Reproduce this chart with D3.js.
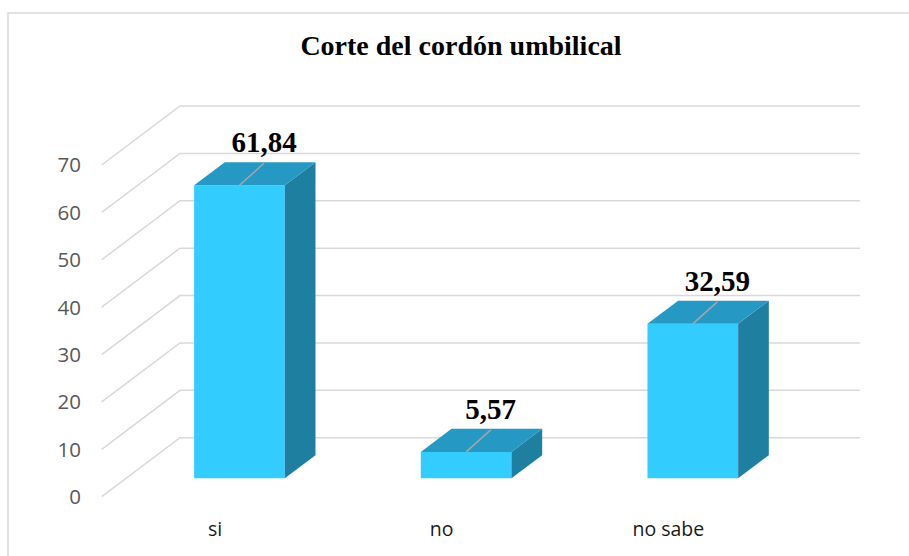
<!DOCTYPE html>
<html>
<head>
<meta charset="utf-8">
<script src="https://cdn.jsdelivr.net/npm/d3@7"></script>
<style>
  html, body { margin: 0; padding: 0; background: #fff; }
  svg { display: block; }
</style>
</head>
<body>
<svg id="chart" width="909" height="556"></svg>
<script>
const categories = ["si", "no", "no sabe"];
const values = [61.84, 5.57, 32.59];
const valueLabels = ["61,84", "5,57", "32,59"];
const yTicks = [0, 10, 20, 30, 40, 50, 60, 70];
const title = "Corte del cordón umbilical";

const svg = d3.select("#chart");

// 3D projection parameters
const DX = 78.3, DY = -59;     // full depth offset of the plot box
const D0 = 0.312, D1 = 0.704;  // bar depth extent (fraction)

const x = d3.scaleBand().domain(categories).range([101.7, 781.7])
  .paddingInner(0.6).paddingOuter(0.3);
const y = d3.scaleLinear().domain([0, 70]).range([496.7, 165]);

const P = (px, v, d) => [px + d * DX, y(v) + d * DY];

// outer border (only top and left edges visible)
svg.append("rect")
  .attr("x", 8).attr("y", 13).attr("width", 1200).attr("height", 1200)
  .attr("fill", "none").attr("stroke", "#d9d9d9").attr("stroke-width", 1.5);

// title
svg.append("text")
  .attr("x", 461).attr("y", 55)
  .attr("text-anchor", "middle")
  .attr("font-family", "'Liberation Serif', 'Times New Roman', serif")
  .attr("font-weight", "bold")
  .attr("font-size", 28)
  .attr("fill", "#000")
  .text(title);

// gridlines
const x0 = x.range()[0], x1 = x.range()[1];
const grid = svg.append("g").attr("stroke", "#d9d9d9").attr("stroke-width", 1.5).attr("fill", "none");
yTicks.forEach(t => {
  const a = P(x0, t, 0), b = P(x0, t, 1), c = P(x1, t, 1);
  grid.append("path").attr("d", `M${a[0]},${a[1]}L${b[0]},${b[1]}L${c[0]},${c[1]}`);
});

// y axis labels
svg.append("g").selectAll("text").data(yTicks).join("text")
  .attr("x", 81).attr("y", d => y(d))
  .attr("dy", "0.36em")
  .attr("text-anchor", "end")
  .attr("font-family", "'Open Sans', 'Noto Sans', sans-serif")
  .attr("font-size", 20.5)
  .attr("fill", "#595959")
  .text(d => d);

// category labels
svg.append("g").selectAll("text").data(categories).join("text")
  .attr("x", d => x(d) + x.bandwidth() / 2).attr("y", 535.7)
  .attr("text-anchor", "middle")
  .attr("font-family", "'Open Sans', 'Noto Sans', sans-serif")
  .attr("font-size", 19.5)
  .attr("fill", "#1a1a1a")
  .text(d => d);

// bars
const bars = svg.append("g");
categories.forEach((cat, i) => {
  const v = values[i];
  const bx = x(cat), bw = x.bandwidth();
  const poly = pts => "M" + pts.map(p => p.join(",")).join("L") + "Z";
  const g = bars.append("g");
  // front
  g.append("path").attr("fill", "#33ccff")
    .attr("d", poly([P(bx, 0, D0), P(bx + bw, 0, D0), P(bx + bw, v, D0), P(bx, v, D0)]));
  // side
  g.append("path").attr("fill", "#1f7fa0")
    .attr("d", poly([P(bx + bw, 0, D0), P(bx + bw, v, D0), P(bx + bw, v, D1), P(bx + bw, 0, D1)]));
  // top
  g.append("path").attr("fill", "#2698c4")
    .attr("d", poly([P(bx, v, D0), P(bx + bw, v, D0), P(bx + bw, v, D1), P(bx, v, D1)]));

  // leader line + value label
  const cx = bx + bw / 2;
  const start = P(cx, v, D0);
  const end = [start[0] + 0.8 * (D1 - D0) * DX, start[1] + 0.95 * (D1 - D0) * DY];
  g.append("line")
    .attr("x1", start[0]).attr("y1", start[1])
    .attr("x2", end[0]).attr("y2", end[1])
    .attr("stroke", "#a6a6a6").attr("stroke-width", 1.5);
  g.append("text")
    .attr("x", end[0]).attr("y", end[1] - 11)
    .attr("text-anchor", "middle")
    .attr("font-family", "'Liberation Serif', 'Times New Roman', serif")
    .attr("font-weight", "bold")
    .attr("font-size", 29)
    .attr("fill", "#000")
    .text(valueLabels[i]);
});
</script>
</body>
</html>
